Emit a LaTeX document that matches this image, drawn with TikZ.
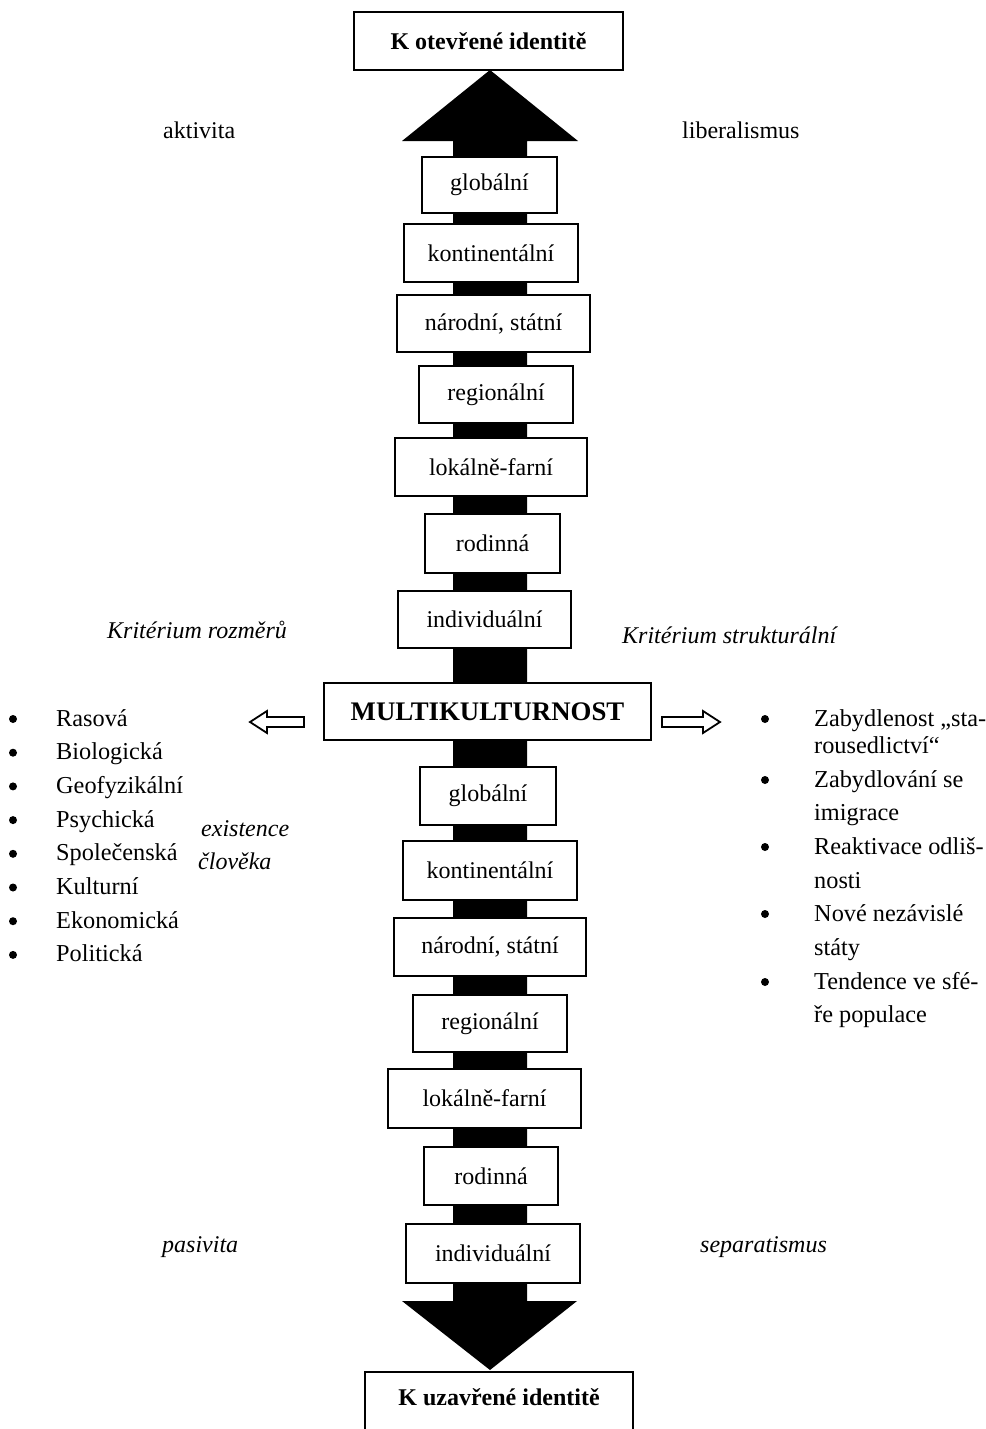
\documentclass[tikz,border=0pt]{standalone}
\usepackage{fontspec}
\setmainfont{Liberation Serif}
\begin{document}
\begin{tikzpicture}[x=1pt,y=-1pt,
  lvl/.style={draw=black,line width=1.8pt,fill=white,inner sep=0pt,font=\fontsize{24}{28}\selectfont},
  endbox/.style={draw=black,line width=1.8pt,fill=white,inner sep=0pt,font=\fontsize{24}{28}\selectfont\bfseries},
  lab/.style={inner sep=0pt,font=\fontsize{24}{28}\selectfont},
  ilab/.style={inner sep=0pt,font=\fontsize{24}{28}\selectfont\itshape},
  item/.style={inner sep=0pt,anchor=base west,font=\fontsize{24.3}{28}\selectfont},
  dot/.style={fill=black},
  hollow/.style={draw=black,line width=1.8pt,fill=white,line join=miter}
]
\useasboundingbox (0,0) rectangle (985,1429);
\clip (0,0) rectangle (985,1429);

% coordinates of the double arrow
\coordinate (tip1) at (490,70);
\coordinate (tip2) at (490,1370);

% black double arrow (shaft + heads)
\fill[black] (tip1) -- (578,141) -- (527,141) -- (527,1301) -- (577,1301) -- (tip2)
  -- (402,1301) -- (453,1301) -- (453,141) -- (402,141) -- cycle;

% top and bottom boxes
\node[endbox,minimum width=269,minimum height=58] (top) at (488.5,41) {K otevřené identitě};
\node[endbox,minimum width=268,minimum height=70] (bot) at (499,1407) {};
\node[inner sep=0pt,anchor=base,font=\fontsize{24}{28}\selectfont\bfseries] (bottxt) at (499,1405) {K uzavřené identitě};

% upper levels
\node[lvl,minimum width=135,minimum height=56] (u1) at (489.5,185) {globální};
\node[lvl,minimum width=174,minimum height=58] (u2) at (491,253) {kontinentální};
\node[lvl,minimum width=193,minimum height=57] (u3) at (493.5,323.5) {národní, státní};
\node[lvl,minimum width=154,minimum height=57] (u4) at (496,394.5) {regionální};
\node[lvl,minimum width=192,minimum height=58] (u5) at (491,467) {lokálně-farní};
\node[lvl,minimum width=135,minimum height=59] (u6) at (492.5,543.5) {rodinná};
\node[lvl,minimum width=173,minimum height=57] (u7) at (484.5,619.5) {individuální};

% centre
\node[draw=black,line width=1.8pt,fill=white,inner sep=0pt,minimum width=327,minimum height=57,
  font=\fontsize{26.8}{30}\selectfont\bfseries] (mk) at (487.5,711.5) {MULTIKULTURNOST};

% lower levels
\node[lvl,minimum width=136,minimum height=58] (d1) at (488,796) {globální};
\node[lvl,minimum width=174,minimum height=59] (d2) at (490,870.5) {kontinentální};
\node[lvl,minimum width=192,minimum height=58] (d3) at (490,947) {národní, státní};
\node[lvl,minimum width=154,minimum height=57] (d4) at (490,1023.5) {regionální};
\node[lvl,minimum width=193,minimum height=59] (d5) at (484.5,1098.5) {lokálně-farní};
\node[lvl,minimum width=134,minimum height=58] (d6) at (491,1176) {rodinná};
\node[lvl,minimum width=174,minimum height=59] (d7) at (493,1253.5) {individuální};

% hollow arrows
\coordinate (lt) at (250,722);
\coordinate (rt) at (720,722);
\draw[hollow] (lt) -- (267,711) -- (267,717) -- (304,717) -- (304,727) -- (267,727) -- (267,733) -- cycle;
\draw[hollow] (rt) -- (703,711) -- (703,717) -- (662,717) -- (662,727) -- (703,727) -- (703,733) -- cycle;

% side labels
\node[lab,anchor=base west] (akt) at (163,138) {aktivita};
\node[lab,anchor=base west] (lib) at (682,138) {liberalismus};
\node[ilab,anchor=base west] (kr1) at (107,638) {Kritérium rozměrů};
\node[ilab,anchor=base west] (kr2) at (622,643) {Kritérium strukturální};
\node[ilab,anchor=base west] (pas) at (162,1252) {pasivita};
\node[ilab,anchor=base west] (sep) at (700,1252) {separatismus};
\node[ilab,anchor=base west] (ex1) at (201,836) {existence};
\node[ilab,anchor=base west] (ex2) at (198,869) {člověka};

% left list
\foreach \t [count=\i from 0] in {Rasová,Biologická,Geofyzikální,Psychická,Společenská,Kulturní,Ekonomická,Politická}{
  \fill[dot] (13,719+33.7*\i) circle (4);
  \node[item] (li\i) at (56,726+33.7*\i) {\t};
}

% right list
\foreach \y in {719,780,847,914,982}{ \fill[dot] (765,\y) circle (4); }
\node[item] (r1) at (814,726) {Zabydlenost „sta-};
\node[item] (r2) at (814,753) {rousedlictví“};
\node[item] (r3) at (814,787) {Zabydlování se};
\node[item] (r4) at (814,820.5) {imigrace};
\node[item] (r5) at (814,854) {Reaktivace odliš-};
\node[item] (r6) at (814,888) {nosti};
\node[item] (r7) at (814,921) {Nové nezávislé};
\node[item] (r8) at (814,955) {státy};
\node[item] (r9) at (814,989) {Tendence ve sfé-};
\node[item] (r10) at (814,1022) {ře populace};
\end{tikzpicture}
\end{document}
